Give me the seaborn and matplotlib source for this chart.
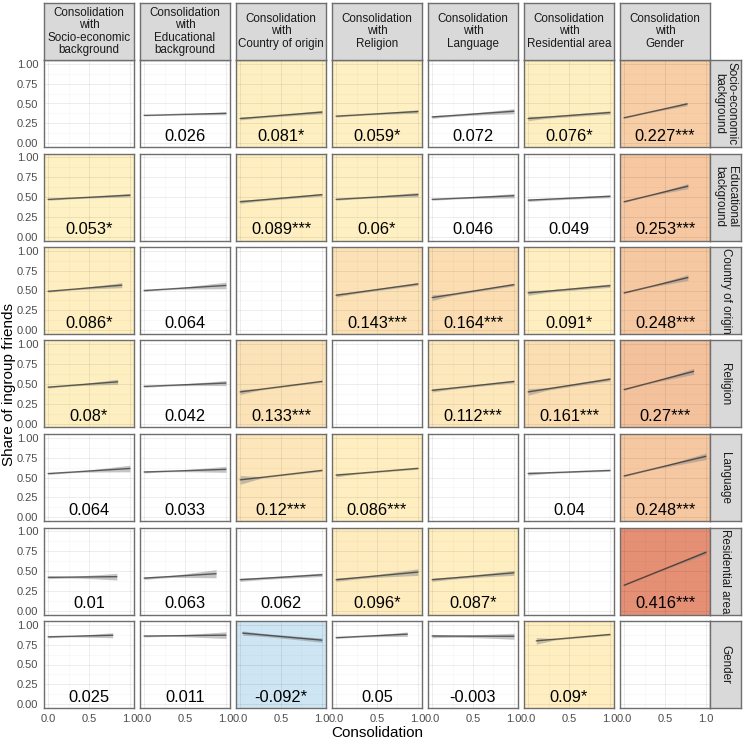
import numpy as np
import pandas as pd
import matplotlib
matplotlib.use("Agg")
import matplotlib.pyplot as plt
import seaborn as sns

# ---------------- data ----------------
dims = ["Socio-economic\nbackground", "Educational\nbackground", "Country of origin",
        "Religion", "Language", "Residential area", "Gender"]
col_titles = ["Consolidation\nwith\n" + d for d in dims]
row_titles = dims

coef_labels = [
    [None, "0.026", "0.081*", "0.059*", "0.072", "0.076*", "0.227***"],
    ["0.053*", None, "0.089***", "0.06*", "0.046", "0.049", "0.253***"],
    ["0.086*", "0.064", None, "0.143***", "0.164***", "0.091*", "0.248***"],
    ["0.08*", "0.042", "0.133***", None, "0.112***", "0.161***", "0.27***"],
    ["0.064", "0.033", "0.12***", "0.086***", None, "0.04", "0.248***"],
    ["0.01", "0.063", "0.062", "0.096*", "0.087*", None, "0.416***"],
    ["0.025", "0.011", "-0.092*", "0.05", "-0.003", "0.09*", None],
]
nan = np.nan
intercepts = [
    [nan, 0.35, 0.31, 0.34, 0.33, 0.31, 0.32],
    [0.47, nan, 0.44, 0.47, 0.47, 0.46, 0.44],
    [0.49, 0.50, nan, 0.44, 0.41, 0.47, 0.47],
    [0.46, 0.47, 0.40, nan, 0.42, 0.40, 0.43],
    [0.55, 0.57, 0.47, 0.53, nan, 0.55, 0.52],
    [0.42, 0.41, 0.39, 0.39, 0.39, nan, 0.32],
    [0.85, 0.86, 0.90, 0.84, 0.86, 0.79, nan],
]
x_start = [
    [nan, 0, 0, 0, 0, 0, 0],
    [0, nan, 0, 0, 0, 0, 0],
    [0, 0, nan, 0, 0, 0, 0],
    [0, 0, 0, nan, 0, 0, 0],
    [0, 0, 0, 0, nan, 0, 0],
    [0, 0, 0, 0, 0, nan, 0],
    [0, 0, 0.03, 0, 0, 0.1, nan],
]
x_end = [
    [nan, 1, 1, 1, 1, 1, 0.77],
    [1, nan, 1, 1, 1, 1, 0.78],
    [0.9, 1, nan, 1, 1, 1, 0.78],
    [0.85, 1, 1, nan, 1, 1, 0.85],
    [1, 1, 1, 1, nan, 1, 1],
    [0.84, 0.88, 1, 1, 1, nan, 1],
    [0.79, 1, 1, 0.87, 1, 1, nan],
]
band_start = [
    [nan, 0.008, 0.018, 0.012, 0.018, 0.028, 0.010],
    [0.012, nan, 0.022, 0.012, 0.012, 0.018, 0.010],
    [0.012, 0.012, nan, 0.022, 0.038, 0.032, 0.010],
    [0.012, 0.012, 0.032, nan, 0.022, 0.042, 0.010],
    [0.012, 0.012, 0.055, 0.022, nan, 0.022, 0.010],
    [0.018, 0.018, 0.022, 0.022, 0.022, nan, 0.010],
    [0.012, 0.012, 0.028, 0.012, 0.022, 0.042, nan],
]
band_end = [
    [nan, 0.018, 0.022, 0.022, 0.032, 0.022, 0.022],
    [0.022, nan, 0.018, 0.028, 0.028, 0.018, 0.032],
    [0.032, 0.042, nan, 0.018, 0.018, 0.022, 0.038],
    [0.032, 0.032, 0.012, nan, 0.018, 0.022, 0.038],
    [0.042, 0.038, 0.012, 0.012, nan, 0.012, 0.042],
    [0.042, 0.052, 0.022, 0.042, 0.032, nan, 0.028],
    [0.032, 0.042, 0.028, 0.028, 0.038, 0.012, nan],
]
x_label = "Consolidation"
y_label = "Share of ingroup friends"

# fill colour anchors (coefficient -> rgb), used only for significant cells
pos_anchor_coef = [0.0, 0.05, 0.09, 0.12, 0.16, 0.25, 0.42]
pos_anchor_rgb = [(255, 244, 204), (254, 241, 196), (254, 238, 192), (252, 230, 186),
                  (251, 222, 178), (246, 200, 162), (229, 143, 116)]
neg_anchor_coef = [-0.1, 0.0]
neg_anchor_rgb = [(203, 229, 243), (236, 246, 251)]


def fill_colour(label):
    if label is None or "*" not in label:
        return "white"
    v = float(label.replace("*", ""))
    if v >= 0:
        c, rgb = pos_anchor_coef, np.array(pos_anchor_rgb, float)
    else:
        c, rgb = neg_anchor_coef, np.array(neg_anchor_rgb, float)
    out = [np.interp(v, c, rgb[:, k]) / 255 for k in range(3)]
    return tuple(out)


# ---------------- style ----------------
sns.set_style("white")
plt.rcParams["font.family"] = ["Liberation Sans", "DejaVu Sans"]

W, H = 744, 741
fig = plt.figure(figsize=(W / 100, H / 100), dpi=100)


def add_px_axes(x0, y0, w, h):
    return fig.add_axes([x0 / W, 1 - (y0 + h) / H, w / W, h / H])


n = len(dims)
PX0, PW, PDX = 44, 90, 96
PY0, PH, PDY = 60, 87, 93.5
border = "#6E6E6E"
strip_fs = 8.4

for i in range(n):
    for j in range(n):
        ax = add_px_axes(PX0 + j * PDX, PY0 + i * PDY, PW, PH)
        lab = coef_labels[i][j]
        ax.set_facecolor(fill_colour(lab))
        ax.set_xlim(-0.05, 1.05)
        ax.set_ylim(-0.05, 1.05)
        ax.set_xticks([0, 0.5, 1.0])
        ax.set_xticks([0.25, 0.75], minor=True)
        ax.set_yticks([0, 0.25, 0.5, 0.75, 1.0])
        ax.set_yticks([0.125, 0.375, 0.625, 0.875], minor=True)
        ax.set_xticklabels(["0.0", "0.5", "1.0"])
        ax.set_yticklabels(["0.00", "0.25", "0.50", "0.75", "1.00"])
        ax.grid(which="major", color="black", alpha=0.085, lw=0.6)
        ax.grid(which="minor", color="black", alpha=0.04, lw=0.4)
        ax.set_axisbelow(True)
        for s in ax.spines.values():
            s.set_color(border)
            s.set_linewidth(1.0)
        ax.tick_params(which="major", direction="out", length=2.5, width=0.6,
                       color="#333333", labelcolor="#4D4D4D", labelsize=8,
                       pad=1.5)
        ax.tick_params(which="minor", length=0)
        if j != 0:
            ax.tick_params(which="major", left=False, labelleft=False)
        if i != n - 1:
            ax.tick_params(which="major", bottom=False, labelbottom=False)

        if lab is None:
            continue
        slope = float(lab.replace("*", ""))
        xs, xe = x_start[i][j], x_end[i][j]
        b0 = intercepts[i][j]
        xx = np.linspace(xs, xe, 60)
        yy = b0 + slope * xx
        ws, we = band_start[i][j], band_end[i][j]
        wmin = 0.7 * min(ws, we)
        xbar = xs + 0.3 * (xe - xs)
        hw = np.where(
            xx < xbar,
            np.sqrt(wmin ** 2 + ((xbar - xx) / (xbar - xs)) ** 2 * (ws ** 2 - wmin ** 2)),
            np.sqrt(wmin ** 2 + ((xx - xbar) / (xe - xbar)) ** 2 * (we ** 2 - wmin ** 2)),
        )
        ax.fill_between(xx, yy - hw, yy + hw, color="#8C8C8C", alpha=0.5, lw=0)
        df = pd.DataFrame({"x": xx, "y": yy})
        sns.lineplot(data=df, x="x", y="y", ax=ax, color="black", alpha=0.55,
                     lw=1.0, errorbar=None)
        ax.set_xlabel("")
        ax.set_ylabel("")
        ax.text(0.5, 0.03, lab, ha="center", va="baseline", fontsize=11.8,
                color="black")

# column strips
for j in range(n):
    sax = add_px_axes(PX0 + j * PDX, 3, PW, PY0 - 3)
    sax.set_facecolor("#D9D9D9")
    sax.set_xticks([])
    sax.set_yticks([])
    for s in sax.spines.values():
        s.set_color(border)
        s.set_linewidth(1.0)
    sax.text(0.5, 0.5, col_titles[j], ha="center", va="center", fontsize=strip_fs,
             color="#1A1A1A", linespacing=1.06, transform=sax.transAxes)

# row strips
for i in range(n):
    sax = add_px_axes(PX0 + n * PDX - 6, PY0 + i * PDY, 31, PH)
    sax.set_facecolor("#D9D9D9")
    sax.set_xticks([])
    sax.set_yticks([])
    for s in sax.spines.values():
        s.set_color(border)
        s.set_linewidth(1.0)
    sax.text(0.5, 0.5, row_titles[i], ha="center", va="center", fontsize=strip_fs,
             color="#1A1A1A", rotation=-90, linespacing=1.0,
             transform=sax.transAxes)

fig.text((PX0 + (n * PDX - 6) / 2) / W, 1 - 733 / H, x_label, ha="center",
         va="center", fontsize=11, color="black")
fig.text(9 / W, 1 - (PY0 + (6 * PDY + PH) / 2) / H, y_label, ha="center",
         va="center", rotation=90, fontsize=11, color="black")

fig.savefig("out.png", dpi=100)
